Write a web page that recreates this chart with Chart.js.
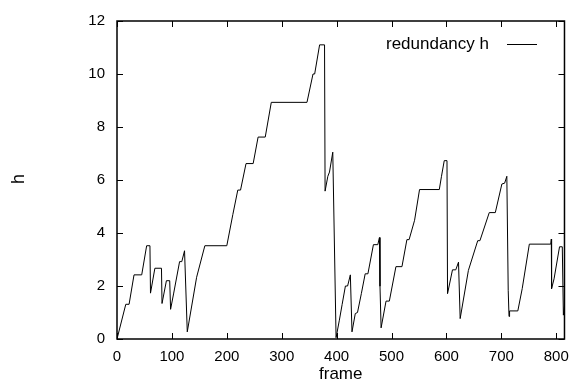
<!DOCTYPE html>
<html lang="en">
  <head>
    <meta charset="UTF-8" />
    <title>redundancy h</title>
    <script src="https://cdn.jsdelivr.net/npm/chart.js"></script>
    <style>
      body {
        margin: 0;
        background-color: white;
      }
      canvas {
        display: block;
      }
    </style>
  </head>
  <body>
    <canvas id="hChart" width="578" height="383"></canvas>

    <script>
      // values (frame -> h)
      const frames = [
        0, 16, 22, 31, 45, 54, 60, 61, 69, 81, 82, 90, 96, 97.6, 103, 114, 118, 123, 128,
        145, 160, 200, 211, 220, 225, 235, 248, 257, 270, 281, 346, 357, 360, 369, 378,
        379, 384, 387, 393, 399, 405, 410, 416, 420, 425, 428, 434, 438, 445, 452, 457,
        467, 475, 478, 479, 481, 490, 496, 508, 519, 528, 532, 542, 551, 587, 591, 596,
        601, 602, 611, 617, 622, 625, 640, 657, 661, 678, 689, 701, 706, 710, 712.5, 714,
        715, 730, 738, 751, 790, 791, 791.5, 796, 806, 811, 813, 815
      ];
      const hValues = [
        0, 1.31, 1.31, 2.42, 2.42, 3.52, 3.52, 1.73, 2.67, 2.67, 1.34, 2.2, 2.2, 1.12, 1.7,
        2.92, 2.92, 3.33, 0.27, 2.33, 3.52, 3.52, 4.7, 5.62, 5.62, 6.62, 6.62, 7.62, 7.62,
        8.93, 8.93, 10.0, 10.0, 11.1, 11.1, 5.58, 6.14, 6.3, 7.05, 0.05, 0.71, 1.3, 2.0,
        2.0, 2.42, 0.27, 0.96, 1.0, 1.71, 2.46, 2.46, 3.56, 3.56, 3.83, 1.99, 0.42, 1.43,
        1.43, 2.73, 2.73, 3.75, 3.75, 4.48, 5.64, 5.64, 6.14, 6.73, 6.73, 1.71, 2.61, 2.61,
        2.9, 0.77, 2.59, 3.71, 3.71, 4.77, 4.77, 5.85, 5.88, 6.14, 1.84, 0.85, 1.06, 1.06,
        1.9, 3.58, 3.58, 3.77, 1.9, 2.27, 3.48, 3.48, 0.9, 1.25
      ];
      const xTicks = [0, 100, 200, 300, 400, 500, 600, 700, 800];
      const yTicks = [0, 2, 4, 6, 8, 10, 12];
      const seriesLabel = "redundancy h";

      const fontFamily = "'Liberation Sans', Arial, sans-serif";

      // gnuplot style frame: border on all four sides, ticks pointing inward
      const framePlugin = {
        id: "frame",
        afterDatasetsDraw(chart) {
          const { ctx, chartArea: a, scales } = chart;
          const len = 6;
          ctx.save();
          ctx.strokeStyle = "#000";
          ctx.lineWidth = 1;
          ctx.beginPath();
          xTicks.forEach((v) => {
            const px = Math.round(scales.x.getPixelForValue(v)) + 0.5;
            ctx.moveTo(px, a.bottom);
            ctx.lineTo(px, a.bottom - len);
            ctx.moveTo(px, a.top);
            ctx.lineTo(px, a.top + len);
          });
          yTicks.forEach((v) => {
            const py = Math.round(scales.y.getPixelForValue(v)) + 0.5;
            ctx.moveTo(a.left, py);
            ctx.lineTo(a.left + len, py);
            ctx.moveTo(a.right, py);
            ctx.lineTo(a.right - len, py);
          });
          ctx.stroke();
          ctx.lineWidth = 1.5;
          ctx.strokeRect(a.left, a.top, a.right - a.left, a.bottom - a.top);

          // key, text then line sample
          ctx.font = "17px " + fontFamily;
          ctx.fillStyle = "#000";
          ctx.textAlign = "right";
          ctx.textBaseline = "middle";
          ctx.fillText(chart.data.datasets[0].label, 489, 44);
          ctx.lineWidth = 1;
          ctx.beginPath();
          ctx.moveTo(507, 44.5);
          ctx.lineTo(537, 44.5);
          ctx.stroke();

          // y label, rotated like gnuplot's
          ctx.translate(19, 179);
          ctx.rotate(-Math.PI / 2);
          ctx.textAlign = "center";
          ctx.font = "18px " + fontFamily;
          ctx.fillText("h", 0, 0);
          ctx.restore();
        },
      };

      const config = {
        type: "line",
        data: {
          datasets: [
            {
              label: seriesLabel,
              data: frames.map((f, i) => ({ x: f, y: hValues[i] })),
              borderColor: "#000",
              borderWidth: 1,
              pointRadius: 0,
              tension: 0,
              fill: false,
            },
          ],
        },
        options: {
          responsive: false,
          animation: false,
          layout: { padding: { left: 0, right: 13, top: 18, bottom: 0 } },
          plugins: {
            legend: { display: false },
            tooltip: { enabled: false },
          },
          scales: {
            x: {
              type: "linear",
              min: 0,
              max: 815,
              afterFit: (s) => {
                s.height = 44;
              },
              grid: { display: false, drawTicks: false },
              border: { display: false },
              ticks: {
                stepSize: 100,
                includeBounds: false,
                padding: 9,
                color: "#000",
                font: { size: 15, family: fontFamily },
                maxRotation: 0,
              },
              title: {
                display: true,
                text: "frame",
                color: "#000",
                font: { size: 17, family: fontFamily, lineHeight: 1 },
                padding: { top: 0, bottom: 0 },
              },
            },
            y: {
              min: 0,
              max: 12,
              afterFit: (s) => {
                s.width = 117;
              },
              grid: { display: false, drawTicks: false },
              border: { display: false },
              ticks: {
                stepSize: 2,
                padding: 12,
                color: "#000",
                font: { size: 15, family: fontFamily },
              },
            },
          },
        },
        plugins: [framePlugin],
      };

      new Chart(document.getElementById("hChart"), config);
    </script>
  </body>
</html>
